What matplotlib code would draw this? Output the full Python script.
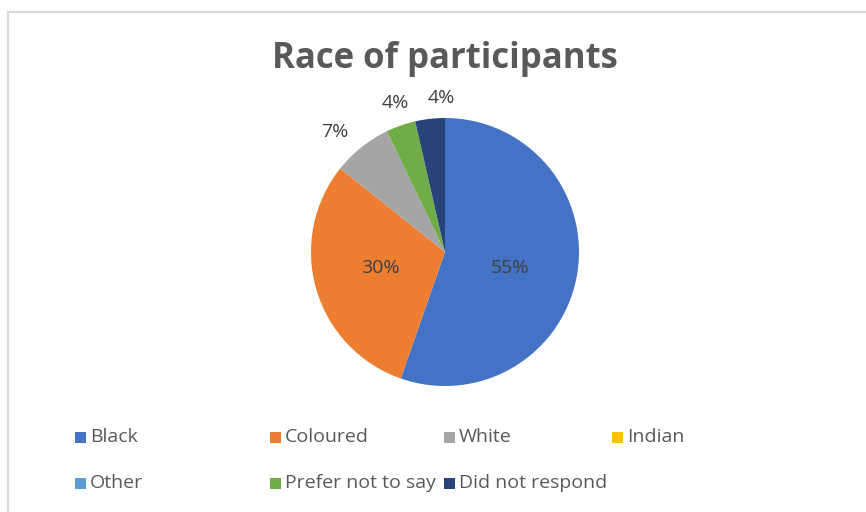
import matplotlib.pyplot as plt
from matplotlib.patches import Rectangle
import numpy as np

# ── data ──────────────────────────────────────────────
labels = ['Black', 'Coloured', 'White', 'Indian', 'Other',
          'Prefer not to say', 'Did not respond']
counts = [31, 17, 4, 0, 0, 2, 2]
colors = ['#4472C4', '#ED7D31', '#A5A5A5', '#FFC000', '#5B9BD5',
          '#70AD47', '#264478']

# label distance (fraction of radius) and angle nudge in degrees
label_dist = [0.50, 0.50, 1.22, 0, 0, 1.17, 1.15]
label_nudge = [-4, -2, 4, 0, 0, -1, -5]

W, H = 866, 512
fig = plt.figure(figsize=(W / 100, H / 100), dpi=100)
fig.patch.set_facecolor('white')

# outer chart border
fig.patches.append(Rectangle((8 / W, -0.1), 1.2, 1 - 12 / H + 0.1,
                             transform=fig.transFigure, fill=False,
                             edgecolor='#D9D9D9', linewidth=1.6))

# pie axes: center (445, 252), radius 134 px
cx, cy, r = 445, 252, 134
ax = fig.add_axes([(cx - r) / W, (H - cy - r) / H, 2 * r / W, 2 * r / H])
wedges, _ = ax.pie(counts, colors=colors, startangle=90, counterclock=False,
                   radius=1, wedgeprops=dict(linewidth=0))
ax.set_xlim(-1, 1)
ax.set_ylim(-1, 1)
ax.set_aspect('equal')

total = sum(counts)
for w, c, d, nud in zip(wedges, counts, label_dist, label_nudge):
    if c == 0:
        continue
    ang = np.deg2rad((w.theta1 + w.theta2) / 2 + nud)
    ax.text(d * np.cos(ang), d * np.sin(ang), f'{100 * c / total:.0f}%',
            ha='center', va='center', fontsize=14, color='#404040',
            family='Open Sans', clip_on=False)

fig.text(445 / W, 1 - 59 / H, 'Race of participants', ha='center',
         va='center', fontsize=25, fontweight='bold', color='#595959',
         family='Open Sans')

# legend, laid out like the Excel one
leg_x = [80, 275, 449, 617, 80, 275, 449]
leg_y = [437, 437, 437, 437, 483, 483, 483]
sq = 11
for lab, col, lx, ly in zip(labels, colors, leg_x, leg_y):
    fig.patches.append(Rectangle(((lx - sq / 2) / W, 1 - (ly + sq / 2) / H),
                                 sq / W, sq / H, transform=fig.transFigure,
                                 facecolor=col, edgecolor='none'))
    fig.text((lx + 10) / W, 1 - ly / H, lab, ha='left', va='center',
             fontsize=14, color='#595959', family='Open Sans')

plt.savefig('out.png', dpi=100, facecolor='white')
